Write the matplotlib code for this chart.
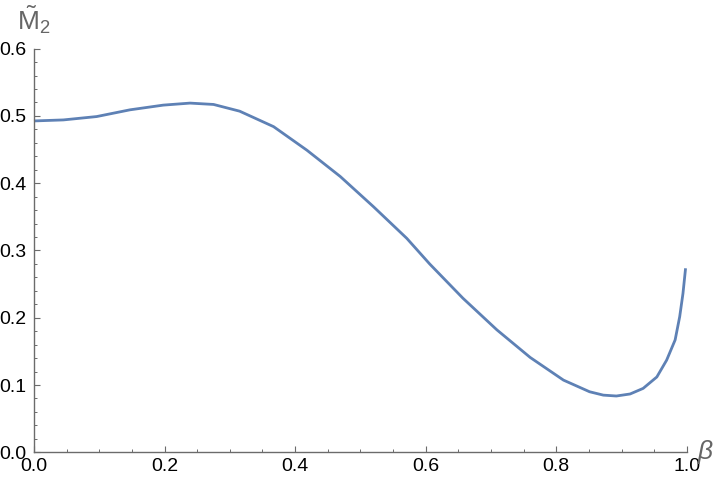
import matplotlib
matplotlib.use("Agg")
import matplotlib.pyplot as plt
from matplotlib.ticker import MultipleLocator

# values
beta = [0.0, 0.045, 0.096, 0.147, 0.198, 0.239, 0.275, 0.315, 0.367,
        0.418, 0.469, 0.520, 0.571, 0.606, 0.657, 0.709, 0.760, 0.811,
        0.851, 0.872, 0.892, 0.913, 0.933, 0.954, 0.969, 0.982, 0.989,
        0.994, 0.998]
m2 = [0.4925, 0.494, 0.499, 0.509, 0.516, 0.519, 0.517, 0.507, 0.484,
      0.449, 0.410, 0.365, 0.318, 0.280, 0.229, 0.182, 0.141, 0.1073,
      0.090, 0.085, 0.0837, 0.0867, 0.095, 0.112, 0.137, 0.167, 0.2016,
      0.236, 0.2735]

x_ticks = [0.0, 0.2, 0.4, 0.6, 0.8, 1.0]
y_ticks = [0.0, 0.1, 0.2, 0.3, 0.4, 0.5, 0.6]

plt.rcParams['font.family'] = ['Liberation Sans', 'DejaVu Sans']
plt.rcParams['mathtext.fontset'] = 'custom'
plt.rcParams['mathtext.rm'] = 'Liberation Sans'
plt.rcParams['mathtext.it'] = 'Liberation Sans:italic'

fig = plt.figure(figsize=(7.2, 4.86), dpi=100)
ax = fig.add_axes([0.0472, 0.0693, 0.9068, 0.8307])

ax.plot(beta, m2, color='#5e81b5', lw=2.0, solid_joinstyle='round',
        solid_capstyle='butt', clip_on=False)

ax.set_xlim(0, 1)
ax.set_ylim(0, 0.6)
ax.set_xticks(x_ticks)
ax.set_yticks(y_ticks)
ax.set_xticklabels([f'{v:.1f}' for v in x_ticks])
ax.set_yticklabels([f'{v:.1f}' for v in y_ticks])
ax.xaxis.set_minor_locator(MultipleLocator(0.05))
ax.yaxis.set_minor_locator(MultipleLocator(0.02))

for side in ['top', 'right']:
    ax.spines[side].set_visible(False)
for side in ['left', 'bottom']:
    ax.spines[side].set_color('#6b6b6b')
    ax.spines[side].set_linewidth(1.0)

ax.tick_params(which='major', direction='in', length=4.5, width=0.8,
               color='#6b6b6b', labelsize=14, labelcolor='black')
ax.tick_params(axis='x', which='major', pad=4)
ax.tick_params(axis='y', which='major', pad=5.5)
ax.tick_params(which='minor', direction='in', length=2.5, width=0.7,
               color='#6b6b6b')

ax.text(1.015, 0.0, r'$\beta$', transform=ax.transAxes, fontsize=19,
        color='#666666', ha='left', va='center')
ax.text(0.0, 1.046, r'$\tilde{\mathrm{M}}_2$', transform=ax.transAxes,
        fontsize=19, color='#666666', ha='center', va='baseline')

fig.savefig('out.png', dpi=100)
